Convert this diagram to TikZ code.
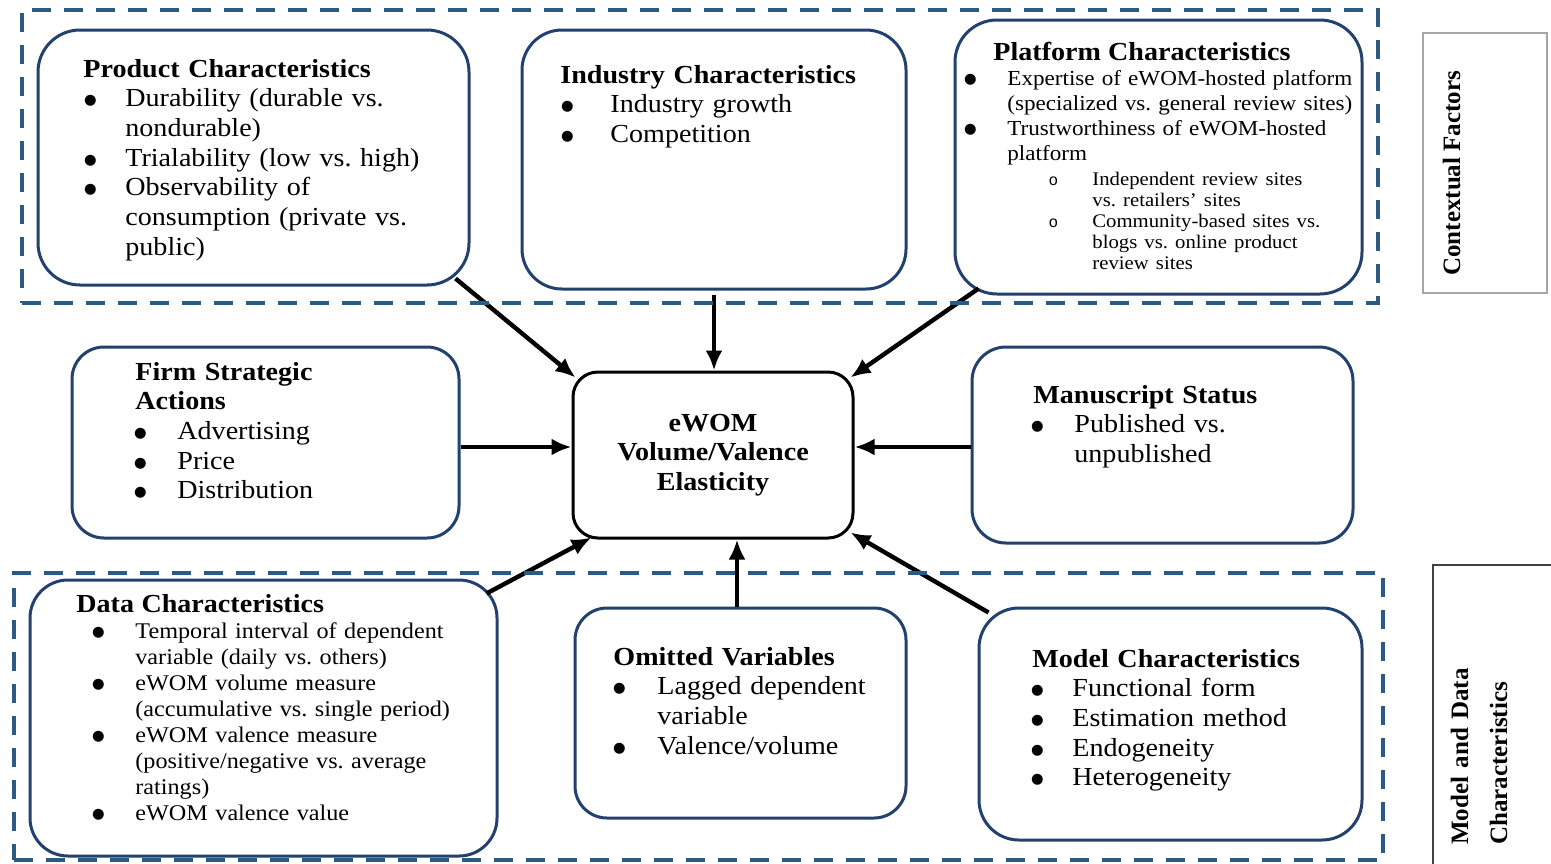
\documentclass[tikz,border=0pt]{standalone}
\usepackage{fontspec}
\setmainfont{Liberation Serif}[FakeStretch=1.08]
\newfontfamily\labelfont{Liberation Serif}
\newfontfamily\subbulletfont{Liberation Mono}
\newfontfamily\dotfont{DejaVu Sans}
\usetikzlibrary{arrows.meta,calc,fit}
\frenchspacing

\definecolor{boxblue}{HTML}{23416E}
\definecolor{frameblue}{HTML}{2C5A80}

% font sizes
\newcommand\mainsz{\fontsize{13}{14.85}\selectfont}
\newcommand\datasz{\fontsize{11.2}{13.05}\selectfont}
\newcommand\platsz{\fontsize{10.7}{12.5}\selectfont}
\newcommand\subsz{\fontsize{9.6}{10.5}\selectfont}

% line break that keeps the hanging indent of an item
\newcommand\nl{\hfil\break}
% box heading
\newcommand\ttl[1]{\noindent{\fontsize{13}{14.85}\selectfont\bfseries #1}}
% solid bullet mark
\newcommand\bigdot{\raisebox{1pt}{\dotfont\fontsize{7.2}{7.2}\selectfont ●}}
% bulleted item: #1 bullet centre offset, #2 text indent, #3 text
\newcommand\bitem[3]{\par\noindent\hangindent=#2\hangafter=1
  \hbox to #2{\hskip #1\makebox[0pt]{\bigdot}\hss}#3}
% sub-item with an open-circle mark
\newcommand\oitem[3]{\par\noindent\hangindent=#2\hangafter=1
  \hbox to #2{\hskip #1\makebox[0pt]{\subbulletfont\fontsize{8}{8}\selectfont o}\hss}#3}

\begin{document}
\begin{tikzpicture}[x=0.5pt,y=-0.5pt,
  box/.style={draw=boxblue, line width=1.5pt, rounded corners=#1, inner sep=0pt},
  box/.default=17pt,
  ctrbox/.style={draw=black, line width=1.5pt, rounded corners=12.5pt, inner sep=0pt},
  dashframe/.style={draw=frameblue, line width=2pt, dash pattern=on 9.5pt off 6.5pt, inner sep=0pt},
  txt/.style={anchor=base west, inner sep=0pt, text width=#1, align=left},
  arr/.style={line width=2.2pt, -{Latex[length=10pt,width=8.5pt]}}]

\fill[white] (0,0) rectangle (1551,863);
\useasboundingbox (0,0) rectangle (1551,863);

% ---------- boxes ----------
\node[box=21pt, fit={(38,30) (469,285)}] (prod) {};
\node[box=20pt, fit={(522,30) (906,289)}] (ind) {};
\node[box=21pt, fit={(955,20) (1362,294)}] (plat) {};
\node[box=16pt, fit={(72,347) (459,538)}] (firm) {};
\node[box=17pt, fit={(972,347) (1353,543)}] (ms) {};
\node[box=19pt, fit={(30,580) (497,856)}] (data) {};
\node[box=16pt, fit={(575,608) (906,818)}] (omit) {};
\node[box=20pt, fit={(979,608) (1362,840)}] (model) {};

\node[ctrbox, minimum width=140pt, minimum height=83pt, align=center,
  font=\bfseries\fontsize{13}{14.85}\selectfont] (ctr) at (713,455)
  {eWOM\\Volume/Valence\\Elasticity};

% ---------- box texts ----------
\node[txt=200pt, font=\mainsz] (prodT) at (83,77) {\ttl{Product Characteristics}
  \bitem{3.5pt}{21pt}{Durability (durable vs.\nl nondurable)}
  \bitem{3.5pt}{21pt}{Trialability (low vs. high)}
  \bitem{3.5pt}{21pt}{Observability of\nl consumption (private vs.\nl public)}\par};

\node[txt=200pt, font=\mainsz] (indT) at (560,83) {\ttl{Industry Characteristics}
  \bitem{3.5pt}{25pt}{Industry growth}
  \bitem{3.5pt}{25pt}{Competition}\par};

\node[txt=220pt, font=\platsz] (platT) at (993,60) {\ttl{Platform Characteristics}
  \bitem{-11.5pt}{7pt}{Expertise of eWOM-hosted platform\nl (specialized vs. general review sites)}
  \bitem{-11.5pt}{7pt}{Trustworthiness of eWOM-hosted\nl platform}\par
  \vspace{2pt}{\subsz
  \oitem{30pt}{49.5pt}{Independent review sites\nl vs. retailers' sites}
  \oitem{30pt}{49.5pt}{Community-based sites vs.\nl blogs vs. online product\nl review sites}\par}};

\node[txt=200pt, font=\mainsz] (firmT) at (135,380) {\ttl{Firm Strategic\nl Actions}
  \bitem{2.5pt}{21pt}{Advertising}
  \bitem{2.5pt}{21pt}{Price}
  \bitem{2.5pt}{21pt}{Distribution}\par};

\node[txt=200pt, font=\mainsz] (msT) at (1033,403) {\ttl{Manuscript Status}
  \bitem{2pt}{20.5pt}{Published vs.\nl unpublished}\par};

\node[txt=230pt, font=\datasz] (dataT) at (76,612) {\ttl{Data Characteristics}
  \bitem{11pt}{29.5pt}{Temporal interval of dependent\nl variable (daily vs. others)}
  \bitem{11pt}{29.5pt}{eWOM volume measure\nl (accumulative vs. single period)}
  \bitem{11pt}{29.5pt}{eWOM valence measure\nl (positive/negative vs. average\nl ratings)}
  \bitem{11pt}{29.5pt}{eWOM valence value}\par};

\node[txt=200pt, font=\mainsz] (omitT) at (613,665) {\ttl{Omitted Variables}
  \bitem{3pt}{22pt}{Lagged dependent\nl variable}
  \bitem{3pt}{22pt}{Valence/volume}\par};

\node[txt=200pt, font=\mainsz] (modelT) at (1032,667) {\ttl{Model Characteristics}
  \bitem{2.5pt}{20pt}{Functional form}
  \bitem{2.5pt}{20pt}{Estimation method}
  \bitem{2.5pt}{20pt}{Endogeneity}
  \bitem{2.5pt}{20pt}{Heterogeneity}\par};

% ---------- arrows into the centre ----------
\draw[arr] ($(prod.south east)+(-15,-8)$) -- ($(ctr.north west)+(4,7)$);
\draw[arr] ($(ind.south)+(0,4)$) -- (ind.south |- ctr.north);
\draw[arr] ($(plat.south west)+(25,-7)$) -- ($(ctr.north east)+(-4,7)$);
\draw[arr] (firm.east |- 0,447) -- (ctr.west |- 0,447);
\draw[arr] (ms.west |- 0,447) -- (ctr.east |- 0,447);
\draw[arr] ($(data.north east)+(-12,15)$) -- ($(ctr.south west)+(20,-2)$);
\draw[arr] ($(omit.north)+(-3.5,0)$) coordinate (o1) -- (o1 |- ctr.south);
\draw[arr] ($(model.north west)+(11,6)$) -- ($(ctr.south east)+(-4,-7)$);

% ---------- dashed group frames ----------
\node[dashframe, fit={(22,10) (1378,303)}] (ctxframe) {};
\node[dashframe, fit={(14,573) (1383,860)}] (mdframe) {};

% ---------- side labels ----------
\node[draw=black!35, line width=0.8pt, inner sep=0pt, fit={(1423,33) (1547,293)}] (ctxlbl) {};
\node[rotate=90, anchor=base west, inner sep=0pt,
  font=\labelfont\bfseries\fontsize{12.5}{19.5}\selectfont] (ctxT) at (1460,276) {Contextual Factors};

\node[draw=black!75, line width=1pt, inner sep=0pt, fit={(1433,565) (1570,880)}] (mdlbl) {};
\node[rotate=90, anchor=base west, inner sep=0pt, text width=110pt, align=left,
  font=\labelfont\bfseries\fontsize{12.5}{19.5}\selectfont] (mdT) at (1468,845)
  {Model and Data\\ Characteristics};
\end{tikzpicture}
\end{document}
